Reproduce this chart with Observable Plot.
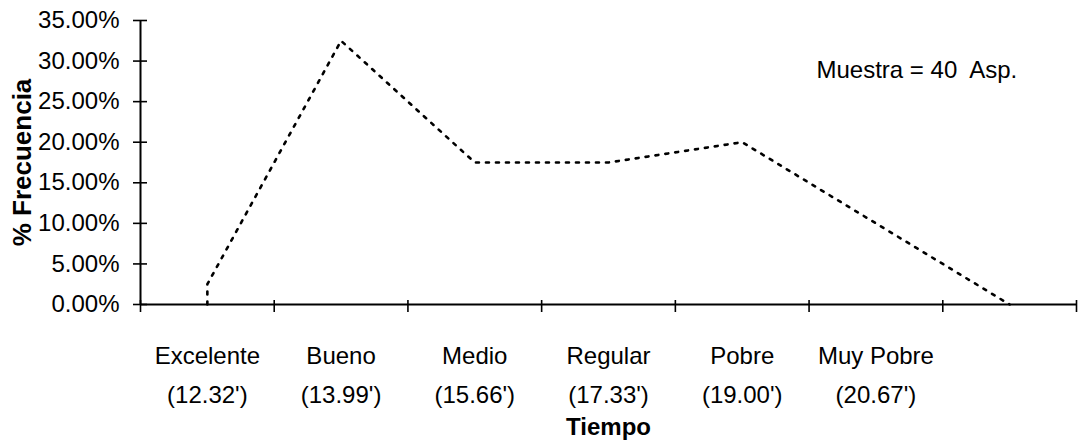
<!DOCTYPE html>
<html>
<head>
<meta charset="utf-8">
<script src="https://cdn.jsdelivr.net/npm/d3@7"></script>
<script src="https://cdn.jsdelivr.net/npm/@observablehq/plot@0.6"></script>
<style>
  html, body { margin: 0; padding: 0; background: #fff; }
  svg text { white-space: pre; }
</style>
</head>
<body>
<div id="chart"></div>
<script>
// Categories (x axis) and their time labels
const categories = ["Excelente", "Bueno", "Medio", "Regular", "Pobre", "Muy Pobre", ""];
const times = ["(12.32')", "(13.99')", "(15.66')", "(17.33')", "(19.00')", "(20.67')", ""];

// Frequency series (category index, share)
const seriesCat = [0, 0, 1, 2, 3, 4, 5, 6];
const seriesVal = [0, 0.025, 0.325, 0.175, 0.175, 0.20, 0.10, 0];

// Y tick values
const yTicks = [0, 0.05, 0.10, 0.15, 0.20, 0.25, 0.30, 0.35];
// X boundary ticks (between categories)
const xBounds = [-0.5, 0.5, 1.5, 2.5, 3.5, 4.5, 5.5, 6.5];

const yTitle = "% Frecuencia";
const xTitle = "Tiempo";
const note = "Muestra = 40  Asp.";

const series = seriesCat.map((c, i) => ({x: c, y: seriesVal[i]}));
const labels = categories.map((c, i) => ({x: i, text: c + "\n" + times[i]}));

const W = 1078, H = 445, mL = 140, mR = 2, mT = 20, mB = 141;
const xDomain = [-0.5, 6.5], yDomain = [0, 0.35];
// pixel -> data unit conversions (to draw crossing tick marks with fixed pixel length)
const pxX = (xDomain[1] - xDomain[0]) / (W - mL - mR);
const pxY = (yDomain[1] - yDomain[0]) / (H - mT - mB);

const fs = 24;
const ls = "-0.6px";

const chart = Plot.plot({
  width: W,
  height: H,
  marginLeft: mL,
  marginRight: mR,
  marginTop: mT,
  marginBottom: mB,
  style: {fontFamily: "'Liberation Sans', Arial, sans-serif", background: "#fff", color: "#000", overflow: "visible"},
  x: {domain: xDomain, axis: null},
  y: {domain: yDomain, axis: null},
  marks: [
    // axis lines
    Plot.ruleY([0], {stroke: "#000", strokeWidth: 2}),
    Plot.ruleX([xDomain[0]], {y1: yDomain[0], y2: yDomain[1], stroke: "#000", strokeWidth: 2}),
    // crossing y ticks
    Plot.ruleY(yTicks, {y: d => d, x1: xDomain[0] - 7 * pxX, x2: xDomain[0] + 7 * pxX, stroke: "#000", strokeWidth: 1.6}),
    // crossing x ticks
    Plot.ruleX(xBounds, {x: d => d, y1: -8 * pxY, y2: 4 * pxY, stroke: "#000", strokeWidth: 1.6}),
    // y tick labels
    Plot.axisY(yTicks, {
      anchor: "left", tickSize: 0, tickPadding: 21,
      tickFormat: d3.format(".2%"), fontSize: fs,
      fill: "#000", label: null, style: {letterSpacing: ls}
    }),
    // category labels
    Plot.text(labels, {
      x: "x", text: "text", frameAnchor: "bottom", dy: 32,
      lineAnchor: "top", lineHeight: 1.625, fontSize: fs, fill: "#000",
      style: {letterSpacing: ls}
    }),
    // the series line
    Plot.line(series, {
      x: "x", y: "y", stroke: "#000", strokeWidth: 2.6,
      strokeDasharray: "3,7", curve: "linear"
    }),
    // axis titles
    Plot.text([xTitle], {
      frameAnchor: "bottom", dy: 123, fontSize: fs, fontWeight: "bold",
      lineAnchor: "middle", fill: "#000", style: {letterSpacing: ls}
    }),
    Plot.text([yTitle], {
      frameAnchor: "left", dx: -118, rotate: -90, fontSize: 26, fontWeight: "bold",
      textAnchor: "middle", lineAnchor: "middle", fill: "#000"
    }),
    // annotation
    Plot.text([note], {
      frameAnchor: "top-right", dx: -260, dy: 50, textAnchor: "start",
      fontSize: fs, lineAnchor: "middle", fill: "#000", style: {letterSpacing: ls}
    })
  ]
});

document.getElementById("chart").appendChild(chart);
</script>
</body>
</html>
